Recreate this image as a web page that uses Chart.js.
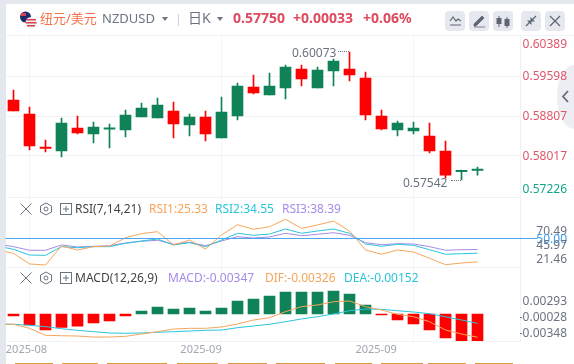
<!DOCTYPE html>
<html lang="zh">
<head>
<meta charset="UTF-8">
<title>NZDUSD</title>
<script src="https://cdn.jsdelivr.net/npm/chart.js@4/dist/chart.umd.min.js"></script>
<style>
  html, body { margin: 0; padding: 0; background: #fff; overflow: hidden; }
  body { width: 574px; height: 364px; position: relative; font-family: "Noto Sans", "Noto Sans CJK SC", sans-serif; }
  canvas { position: absolute; left: 0; top: 0; }
  .t { position: absolute; white-space: nowrap; line-height: 16px; font-size: 12px; z-index: 2; }
  .h { font-size: 13px; line-height: 18px; top: 9px; }
  .num { font-weight: 700; color: #dd4b5e; font-size: 14px; line-height: 18px; top: 9px; }
  .btn { position: absolute; top: 11px; width: 20px; height: 20px; border-radius: 4px; background: #e6e8ef; z-index: 2; }
  .strip { position: absolute; top: 363px; height: 1px; background: #dc9a3c; }
  svg { position: absolute; z-index: 2; }
</style>
</head>
<body>
<div style="position:absolute;left:0;top:0;width:574px;height:4px;background:#e4e7ee"></div>
<div style="position:absolute;left:0;top:0;width:5.5px;height:364px;background:#e4e7ee"></div>
<div style="position:absolute;left:6px;top:4px;width:568px;height:31px;background:#fff;border-radius:4px 4px 0 0;border-bottom:1px solid #f3f4f8;box-sizing:content-box"></div>
<div style="position:absolute;left:557px;top:65px;width:17px;height:64px;background:#eceef3;border-radius:17px 0 0 17px / 32px 0 0 32px"></div>

<svg style="left:19px;top:11px" width="19" height="18">
  <circle cx="6.5" cy="6" r="5.5" fill="#1d2b6b"/><rect x="2" y="2" width="5" height="3" fill="#d8414f"/>
  <circle cx="12" cy="11.5" r="5.5" fill="#eee"/>
  <rect x="7" y="8" width="10" height="1.5" fill="#d8414f"/><rect x="6.6" y="11" width="11" height="1.5" fill="#d8414f"/><rect x="8" y="14" width="8" height="1.5" fill="#d8414f"/>
</svg>
<div class="t h" style="left:40px;color:#f5734b">纽元/美元</div>
<div class="t h" style="left:102px;color:#6b7280">NZDUSD</div>
<svg style="left:162px;top:17px" width="6" height="4"><path d="M0 0H6L3 4Z" fill="#6b7280"/></svg>
<div style="position:absolute;left:178px;top:14px;width:1px;height:12px;background:#cfd3dc;z-index:2"></div>
<div class="t h" style="left:188px;color:#6b7280;font-size:14px">日K</div>
<svg style="left:217px;top:17px" width="6" height="4"><path d="M0 0H6L3 4Z" fill="#6b7280"/></svg>
<div class="t num" style="left:233px">0.57750</div>
<div class="t num" style="left:293px">+0.00033</div>
<div class="t num" style="left:363px">+0.06%</div>

<div class="btn" style="left:445px"><svg width="20" height="20"><path d="M5 10L8 6L11 10L13 8L16 10M5 14H16" fill="none" stroke="#5f6673" stroke-width="1.2"/></svg></div>
<div class="btn" style="left:469px"><svg width="20" height="20"><path d="M5 13L13 5L15 7L7 15H5ZM5 16H16" fill="#5f6673" stroke="#5f6673" stroke-width="0.8"/></svg></div>
<div class="btn" style="left:493px"><svg width="20" height="20"><path d="M6 5V16M14 6V17" stroke="#5f6673"/><rect x="3.5" y="7" width="5" height="6" fill="#5f6673"/><rect x="11.5" y="8" width="5" height="7" fill="#5f6673"/></svg></div>
<div class="btn" style="left:521px"><svg width="20" height="20"><path d="M5 15L9 11M15 5L11 9" stroke="#5f6673" stroke-width="1.3"/><path d="M6 9.5H10.5V14ZM14 10.5H9.5V6Z" fill="#5f6673"/></svg></div>
<div class="btn" style="left:545px"><svg width="20" height="20"><path d="M5 5L15 15M15 5L5 15" stroke="#5f6673" stroke-width="1.3"/></svg></div>
<svg style="left:561px;top:90px" width="9" height="13"><path d="M7 1L2 6.5L7 12" fill="none" stroke="#646b7c" stroke-width="1.8"/></svg>

<canvas id="chart" width="574" height="364"></canvas>

<div class="t" style="left:292px;top:45px;color:#6b7280">0.60073</div>
<div style="position:absolute;left:338px;top:51px;width:11px;border-top:1px dotted #6b7280;z-index:2"></div>
<div class="t" style="left:403px;top:175px;color:#6b7280">0.57542</div>
<div style="position:absolute;left:451px;top:180px;width:10px;border-top:1px dotted #6b7280;z-index:2"></div>

<svg style="left:19px;top:202px" width="54" height="14" fill="none" stroke="#6b7280">
  <path d="M1.5 1.5L12.5 12.5M12.5 1.5L1.5 12.5"/><path d="M27 1L32.5 4V10L27 13L21.5 10V4Z"/><circle cx="27" cy="7" r="2"/>
  <rect x="41.5" y="1.5" width="11" height="11"/><path d="M44 7H50M47 4V10"/>
</svg>
<div class="t" style="left:75px;top:201px;color:#444">RSI(7,14,21)</div>
<div class="t" style="left:149px;top:201px;color:#f5a65b">RSI1:25.33</div>
<div class="t" style="left:215px;top:201px;color:#2bc4dc">RSI2:34.55</div>
<div class="t" style="left:282px;top:201px;color:#a78be8">RSI3:38.39</div>

<svg style="left:19px;top:271px" width="54" height="14" fill="none" stroke="#6b7280">
  <path d="M1.5 1.5L12.5 12.5M12.5 1.5L1.5 12.5"/><path d="M27 1L32.5 4V10L27 13L21.5 10V4Z"/><circle cx="27" cy="7" r="2"/>
  <rect x="41.5" y="1.5" width="11" height="11"/><path d="M44 7H50M47 4V10"/>
</svg>
<div class="t" style="left:75px;top:270px;color:#444">MACD(12,26,9)</div>
<div class="t" style="left:168px;top:270px;color:#a78be8">MACD:-0.00347</div>
<div class="t" style="left:265px;top:270px;color:#f5a65b">DIF:-0.00326</div>
<div class="t" style="left:344px;top:270px;color:#2bc4dc">DEA:-0.00152</div>

<div class="strip" style="left:15px;width:38px"></div><div class="strip" style="left:62px;width:36px"></div>
<div class="strip" style="left:107px;width:60px"></div><div class="strip" style="left:177px;width:41px"></div>
<div class="strip" style="left:228px;width:39px"></div><div class="strip" style="left:276px;width:49px"></div>
<div class="strip" style="left:335px;width:37px"></div><div class="strip" style="left:381px;width:42px"></div>
<div class="strip" style="left:428px;width:38px"></div><div class="strip" style="left:475px;width:38px"></div>

<script>
// candles, oldest first
var open  = [0.59123,0.58847,0.58174,0.58115,0.58570,0.58451,0.58545,0.58530,0.58787,0.58767,0.58906,0.58629,0.58787,0.58372,0.58807,0.59381,0.59222,0.59361,0.59736,0.59361,0.59697,0.59736,0.59558,0.58807,0.58530,0.58510,0.58412,0.58115,0.57705,0.57730];
var close = [0.58906,0.58214,0.58165,0.58669,0.58471,0.58590,0.58560,0.58827,0.58965,0.59025,0.58649,0.58787,0.58451,0.58886,0.59400,0.59262,0.59400,0.59776,0.59539,0.59717,0.59895,0.59618,0.58827,0.58550,0.58669,0.58570,0.58115,0.57640,0.57717,0.57750];
var high  = [0.59321,0.58985,0.58332,0.58767,0.58807,0.58688,0.58649,0.58926,0.59064,0.59163,0.59084,0.58847,0.58906,0.59183,0.59460,0.59618,0.59657,0.59816,0.59816,0.59776,0.59934,0.60073,0.59677,0.58926,0.58708,0.58688,0.58669,0.58313,0.57739,0.57799];
var low   = [0.58906,0.58135,0.58095,0.57996,0.58451,0.58273,0.58174,0.58392,0.58787,0.58767,0.58372,0.58412,0.58313,0.58372,0.58728,0.59242,0.59222,0.59143,0.59400,0.59361,0.59400,0.59499,0.58728,0.58530,0.58412,0.58451,0.58075,0.57580,0.57542,0.57640];

// indicators, the first value belongs to the bar just off the left edge
var rsi1 = [37.9,34.4,23.2,22.1,42.1,37.9,41.4,42.1,50.8,55.1,57.2,43.2,48.4,38.9,53.7,64.5,59.7,62.4,70.2,60.7,64.2,68.4,57.9,37.9,33.4,37.9,35.8,29.2,22.4,24.2,25.33];
var rsi2 = [42.1,38.6,32.6,32.3,41.4,40.3,41.4,41.4,44.9,47.4,49.5,43.2,45.6,41.4,48.4,55.5,53.4,54.7,60.0,55.5,57.9,60.0,55.5,44.2,41.8,43.9,42.8,38.2,33.4,34.0,34.55];
var rsi3 = [44.2,41.4,37.6,37.6,43.2,41.1,41.8,42.4,45.3,47.1,48.1,43.9,46.0,42.4,47.4,51.9,50.5,51.6,55.5,52.9,54.4,56.1,53.4,45.6,43.5,44.5,44.2,41.4,37.6,38.2,38.39];
var dif = [-0.00132,-0.00132,-0.00184,-0.00274,-0.00279,-0.00283,-0.00296,-0.00296,-0.00287,-0.00257,-0.00227,-0.00193,-0.00184,-0.00184,-0.00167,-0.00129,-0.00077,-0.00048,0.00030,0.00094,0.00116,0.00158,0.00167,0.00094,0.00051,-0.00004,-0.00035,-0.00099,-0.00206,-0.00257,-0.00299];
var dea = [-0.00132,-0.00132,-0.00145,-0.00163,-0.00189,-0.00210,-0.00227,-0.00244,-0.00248,-0.00244,-0.00235,-0.00227,-0.00219,-0.00210,-0.00206,-0.00176,-0.00154,-0.00132,-0.00099,-0.00064,-0.00035,0,0.00042,0.00064,0.00060,0.00042,0.00026,0.00004,-0.00035,-0.00077,-0.00120];
var macd = [-0.00026,-0.00141,-0.00206,-0.00171,-0.00158,-0.00116,-0.00090,-0.00026,0.00039,0.00090,0.00064,0.00077,0.00039,0.00077,0.00167,0.00193,0.00231,0.00283,0.00283,0.00283,0.00296,0.00257,0.00116,-0.00013,-0.00077,-0.00129,-0.00206,-0.00308,-0.00347,-0.00347];

// axis text and where it sits on each scale, blank labels only carry a grid line
var priceLabels = ['0.60389','0.59598','0.58807','0.58017','0.57226','','','',''];
var priceTicks  = [0.60221,0.59578,0.58787,0.57997,0.57344,0.59598,0.58807,0.58017,0.57206];
var priceGrid   = [0.59598,0.58807,0.58017,0.57206];
var rsiLabels = ['70.49','50.00','45.97','21.46',''];
var rsiTicks  = [57.2,48.6,42.2,28.2,20];
var macdLabels = ['0.00293','-0.00028','-0.00348',''];
var macdTicks  = [0.00158,-0.00048,-0.00253,-0.00347];
var dateLabels = ['2025-08','2025-09','2025-09'];
var dateTicks  = [0.81,11.72,22.66];
var gridTicks  = [1,13,25];

var RED = '#ff0000', GREEN = '#108257';
var idx = open.map(function (v, i) { return i; });

function candleColor(ctx) { return close[ctx.dataIndex] >= open[ctx.dataIndex] ? GREEN : RED; }
function lineData(arr) { return arr.map(function (v, i) { return { x: i - 1, y: v }; }); }
function indicator(arr, color, axis) {
  return { type: 'line', data: lineData(arr), borderColor: color, borderWidth: 1, pointRadius: 0, tension: 0, yAxisID: axis, order: 1 };
}
function yScale(min, max, ticks, labels, weight, order, color, grid) {
  return {
    position: 'right', stack: 'panes', stackWeight: weight, weight: order, min: min, max: max,
    afterFit: function (s) { s.width = 47; s.paddingTop = 0; s.paddingBottom = 0; },
    afterBuildTicks: function (s) { s.ticks = ticks.map(function (v) { return { value: v }; }); },
    border: { display: true, color: '#eef0f4' },
    grid: {
      drawTicks: false,
      color: function (c) { return c.tick && grid.indexOf(c.tick.value) >= 0 ? '#f1f2f6' : 'transparent'; }
    },
    ticks: {
      autoSkip: false, crossAlign: 'far', padding: 2, color: color,
      font: { family: '"Noto Sans"', size: 12 },
      callback: function (v, i) { return labels[i]; }
    }
  };
}

new Chart(document.getElementById('chart'), {
  data: {
    datasets: [
      { type: 'bar', label: 'wick', data: idx.map(function (i) { return { x: i, y: [low[i], high[i]] }; }), backgroundColor: candleColor, barThickness: 1, grouped: false, yAxisID: 'yPrice', order: 3 },
      { type: 'bar', label: 'body', data: idx.map(function (i) { return { x: i, y: [open[i], close[i]] }; }), backgroundColor: candleColor, barThickness: 11, minBarLength: 1.5, grouped: false, yAxisID: 'yPrice', order: 2 },
      indicator(rsi1, '#f5a65b', 'yRsi'),
      indicator(rsi2, '#2bc4dc', 'yRsi'),
      indicator(rsi3, '#a78be8', 'yRsi'),
      { type: 'line', label: 'rsi50', data: [{ x: -0.5, y: 50 }, { x: 32.75, y: 50 }], borderColor: '#4aa3f0', borderWidth: 1, pointRadius: 0, clip: false, yAxisID: 'yRsi', order: 0 },
      { type: 'bar', label: 'macd', data: macd.map(function (v, i) { return { x: i, y: v }; }), backgroundColor: function (c) { return macd[c.dataIndex] >= 0 ? GREEN : RED; }, barThickness: 11, grouped: false, yAxisID: 'yMacd', order: 2 },
      indicator(dif, '#f5a65b', 'yMacd'),
      indicator(dea, '#2bc4dc', 'yMacd')
    ]
  },
  options: {
    responsive: false, animation: false, events: [],
    layout: { padding: { left: 5.5, top: 36, right: 7, bottom: 0 } },
    plugins: { legend: { display: false }, tooltip: { enabled: false } },
    scales: {
      x: {
        type: 'linear', offset: false, min: -0.5, max: 31.656,
        afterFit: function (s) { s.height = 23; s.paddingLeft = 0; s.paddingRight = 0; },
        afterBuildTicks: function (s) {
          s.ticks = gridTicks.concat(dateTicks).sort(function (a, b) { return a - b; }).map(function (v) { return { value: v }; });
        },
        border: { display: false },
        grid: { offset: false, drawTicks: false, color: function (c) { return c.tick && gridTicks.indexOf(c.tick.value) >= 0 ? '#f4f5f9' : 'transparent'; } },
        ticks: {
          autoSkip: false, maxRotation: 0, padding: 2, color: '#a3a7b3',
          font: { family: '"Noto Sans"', size: 11 },
          callback: function (v) { var k = dateTicks.indexOf(v); return k >= 0 ? dateLabels[k] : ''; }
        }
      },
      yPrice: yScale(0.57206, 0.60389, priceTicks, priceLabels, 161, 1, function (c) { return c.tick.value === 0.57344 ? '#12a888' : '#e0566a'; }, priceGrid),
      yRsi: yScale(20, 93.68, rsiTicks, rsiLabels, 70, 2, function (c) { return c.tick.value === 48.6 ? '#3b9cf0' : '#6b7280'; }, [20]),
      yMacd: yScale(-0.00347, 0.00604, macdTicks, macdLabels, 74, 3, '#6b7280', [-0.00347])
    }
  }
});
</script>
</body>
</html>
